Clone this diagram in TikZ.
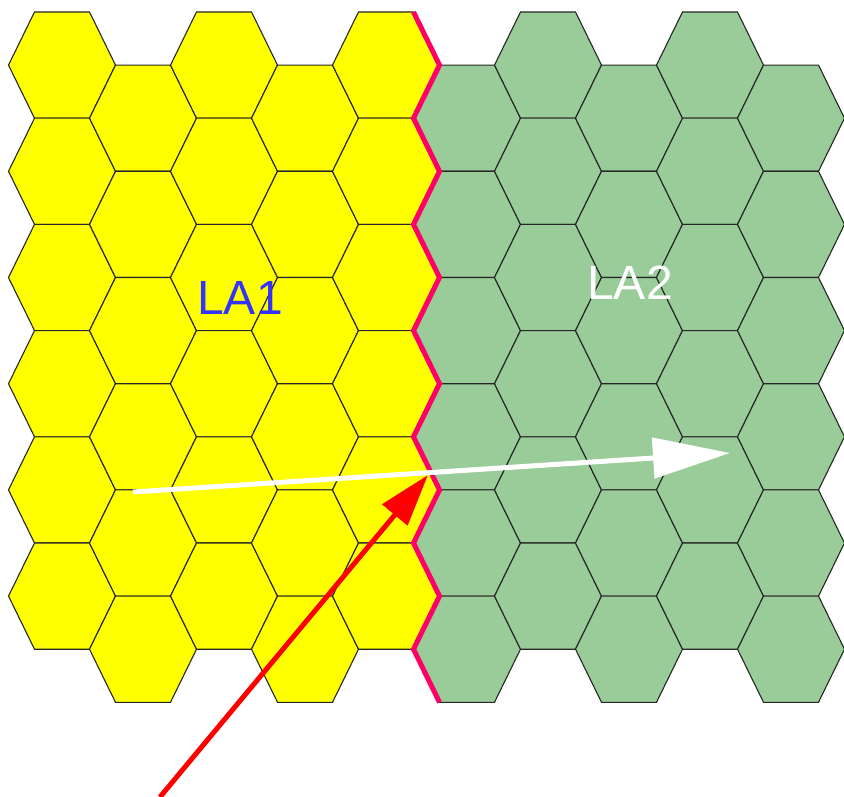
\documentclass[tikz,border=0pt]{standalone}
\usepackage{fontspec}
\setmainfont{Liberation Sans}
\usepackage{xcolor}
\usepackage{tikz}
\usetikzlibrary{arrows.meta}
\definecolor{cellyellow}{HTML}{FFFF00}
\definecolor{cellgreen}{HTML}{99CC99}
\definecolor{borderpink}{HTML}{FF0066}
\definecolor{labelblue}{HTML}{3333FF}
\definecolor{arrowred}{HTML}{FF0000}

\begin{document}
\begin{tikzpicture}[
  x=1pt, y=-1pt,
  cell/.style={
    draw=black!85, line width=1.1pt, fill=#1
  },
  areaborder/.style={draw=borderpink, line width=5pt, line join=miter},
  arealabel/.style={font=\fontsize{48}{50}\selectfont, inner sep=0pt},
  movearrow/.style={draw=white, line width=5pt, -{Triangle[length=77pt,width=40pt]}},
  updatearrow/.style={draw=arrowred, line width=5pt, -{Triangle[length=52pt,width=32pt]}}
]
\useasboundingbox (0,0) rectangle (844,797);

% cells of both areas, six per column
\foreach \i in {0,...,9}{
  \foreach \j in {0,...,5}{
    \pgfmathsetmacro{\cx}{62+81*\i}
    \pgfmathsetmacro{\cy}{65.1+106.2*\j+53.1*mod(\i,2)}
    \ifnum\i<5
      \draw[cell=cellyellow] (\cx-53.5,\cy) -- (\cx-27.5,\cy-53.1) -- (\cx+27.5,\cy-53.1)
        -- (\cx+53.5,\cy) -- (\cx+27.5,\cy+53.1) -- (\cx-27.5,\cy+53.1) -- cycle;
    \else
      \draw[cell=cellgreen] (\cx-53.5,\cy) -- (\cx-27.5,\cy-53.1) -- (\cx+27.5,\cy-53.1)
        -- (\cx+53.5,\cy) -- (\cx+27.5,\cy+53.1) -- (\cx-27.5,\cy+53.1) -- cycle;
    \fi
  }
}

% boundary between the two areas
\draw[areaborder] (413.5,12)
  \foreach \k in {0,...,5}{ -- (439.5,65.1+106.2*\k) -- (413.5,118.2+106.2*\k) }
  -- (439.5,702.3);

\node[arealabel, text=labelblue] (la1) at (240,298) {LA1};
\node[arealabel, text=white] (la2) at (630,283) {LA2};

\coordinate (updFrom) at (160,797);
\coordinate (updTo) at (428,475);
\coordinate (ueFrom) at (133,492);
\coordinate (ueTo) at (730,453);

\draw[updatearrow] (updFrom) -- (updTo);
\draw[movearrow] (ueFrom) -- (ueTo);
\end{tikzpicture}
\end{document}
